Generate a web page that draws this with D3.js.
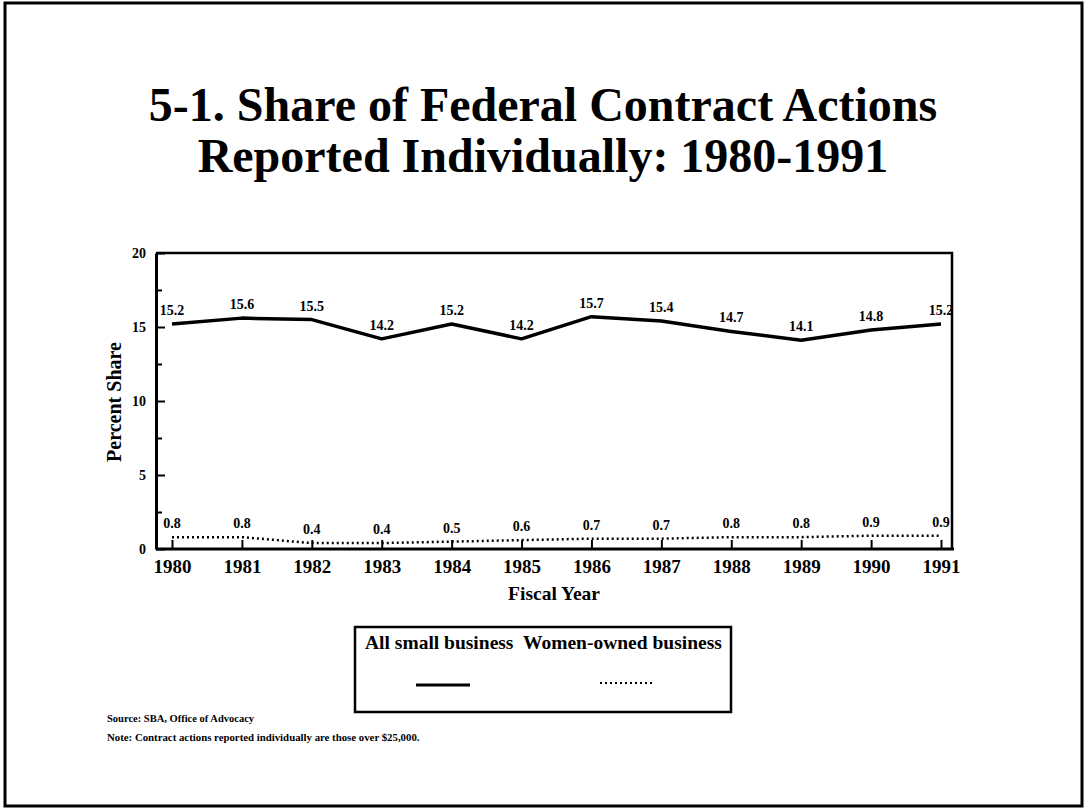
<!DOCTYPE html>
<html>
<head>
<meta charset="utf-8">
<script src="https://cdn.jsdelivr.net/npm/d3@7"></script>
<style>
  body { margin: 0; background: #fff; }
  text { font-family: "Liberation Serif", "Times New Roman", serif; font-weight: bold; fill: #000; }
</style>
</head>
<body>
<div id="svg_element"></div>
<script>
// chart data
var years = [1980, 1981, 1982, 1983, 1984, 1985, 1986, 1987, 1988, 1989, 1990, 1991];
var allSmall = [15.2, 15.6, 15.5, 14.2, 15.2, 14.2, 15.7, 15.4, 14.7, 14.1, 14.8, 15.2];
var womenOwned = [0.8, 0.8, 0.4, 0.4, 0.5, 0.6, 0.7, 0.7, 0.8, 0.8, 0.9, 0.9];
var yMajorTicks = [0, 5, 10, 15, 20];
var yMinorTicks = [2.5, 7.5, 12.5, 17.5];
var seriesNames = ["All small business", "Women-owned business"];

var W = 1084, H = 809;
var margin = { top: 253, right: 130, bottom: 260, left: 156 },
    width = W - margin.left - margin.right,
    height = H - margin.top - margin.bottom;

var root = d3.select("#svg_element")
    .append("svg")
    .attr("width", W)
    .attr("height", H);

// outer frame
root.append("rect")
    .attr("x", 5).attr("y", 3)
    .attr("width", 1077).attr("height", 803)
    .attr("fill", "none").attr("stroke", "#000").attr("stroke-width", 3);

// title
root.append("text")
    .attr("x", 543).attr("y", 121)
    .attr("text-anchor", "middle")
    .style("font-size", "48px")
    .text("5-1. Share of Federal Contract Actions");
root.append("text")
    .attr("x", 543).attr("y", 172)
    .attr("text-anchor", "middle")
    .style("font-size", "48px")
    .text("Reported Individually: 1980-1991");

var svg = root.append("g")
    .attr("transform", "translate(" + margin.left + "," + margin.top + ")");

var x = d3.scaleLinear()
    .domain([1980, 1991])
    .range([16, 785]);

var y = d3.scaleLinear()
    .domain([0, 20])
    .range([height, 0]);

// top and right frame of the plot
svg.append("path")
    .attr("d", "M0,0H" + (width - 2) + "V" + height)
    .attr("fill", "none").attr("stroke", "#000").attr("stroke-width", 2.5);

// minor y ticks
svg.append("g")
    .call(d3.axisLeft(y).tickValues(yMinorTicks).tickSizeInner(-6).tickSizeOuter(0).tickFormat(""))
    .call(g => g.select(".domain").remove())
    .selectAll("line").attr("stroke-width", 2);

// y axis
var yAxis = svg.append("g")
    .call(d3.axisLeft(y).tickValues(yMajorTicks).tickSizeInner(-9).tickSizeOuter(0).tickPadding(10));
yAxis.select(".domain").attr("stroke-width", 3);
yAxis.selectAll("line").attr("stroke-width", 2);
yAxis.selectAll("text").style("font-size", "14px").attr("font-family", null);

// x axis
var xAxis = svg.append("g")
    .attr("transform", "translate(0," + height + ")")
    .call(d3.axisBottom(x).tickValues(years).tickFormat(d3.format("d")).tickSizeInner(-9).tickSizeOuter(0).tickPadding(11));
xAxis.select(".domain").attr("d", "M0,0H" + width).attr("stroke-width", 3);
xAxis.selectAll("line").attr("stroke-width", 2);
xAxis.selectAll("text").style("font-size", "19px").attr("font-family", null);

// axis labels
svg.append("text")
    .attr("x", 398).attr("y", height + 51)
    .attr("text-anchor", "middle")
    .style("font-size", "19.5px")
    .text("Fiscal Year");

svg.append("text")
    .attr("transform", "rotate(-90)")
    .attr("x", -149).attr("y", -35)
    .attr("text-anchor", "middle")
    .style("font-size", "20px")
    .text("Percent Share");

// lines
var line = d3.line()
    .x((d, i) => x(years[i]))
    .y(d => y(d));

svg.append("path")
    .datum(allSmall)
    .attr("d", line)
    .attr("fill", "none")
    .attr("stroke", "#000")
    .attr("stroke-width", 3.5)
    .attr("stroke-linejoin", "round");

svg.append("path")
    .datum(womenOwned)
    .attr("d", line)
    .attr("fill", "none")
    .attr("stroke", "#000")
    .attr("stroke-width", 2.5)
    .attr("stroke-dasharray", "2,3");

// value labels
svg.selectAll(".lblAll")
    .data(allSmall)
    .join("text")
    .attr("class", "lblAll")
    .attr("x", (d, i) => x(years[i]))
    .attr("y", d => y(d) - 9)
    .attr("text-anchor", "middle")
    .style("font-size", "14px")
    .text(d => d3.format(".1f")(d));

svg.selectAll(".lblWomen")
    .data(womenOwned)
    .join("text")
    .attr("class", "lblWomen")
    .attr("x", (d, i) => x(years[i]))
    .attr("y", d => y(d) - 9)
    .attr("text-anchor", "middle")
    .style("font-size", "14px")
    .text(d => d3.format(".1f")(d));

// legend
var legend = root.append("g");
legend.append("rect")
    .attr("x", 355).attr("y", 627)
    .attr("width", 376).attr("height", 85)
    .attr("fill", "none").attr("stroke", "#000").attr("stroke-width", 2.5);
legend.append("text")
    .attr("x", 365).attr("y", 649)
    .style("font-size", "19.5px")
    .text(seriesNames[0]);
legend.append("text")
    .attr("x", 523).attr("y", 649)
    .style("font-size", "19.5px")
    .text(seriesNames[1]);
legend.append("line")
    .attr("x1", 416).attr("x2", 470).attr("y1", 685).attr("y2", 685)
    .attr("stroke", "#000").attr("stroke-width", 3);
legend.append("line")
    .attr("x1", 600).attr("x2", 652).attr("y1", 683).attr("y2", 683)
    .attr("stroke", "#000").attr("stroke-width", 2)
    .attr("stroke-dasharray", "2,3");

// notes
root.append("text")
    .attr("x", 107).attr("y", 722)
    .style("font-size", "10.5px")
    .text("Source: SBA, Office of Advocacy");
root.append("text")
    .attr("x", 107).attr("y", 741)
    .style("font-size", "10.8px")
    .text("Note: Contract actions reported individually are those over $25,000.");
</script>
</body>
</html>
